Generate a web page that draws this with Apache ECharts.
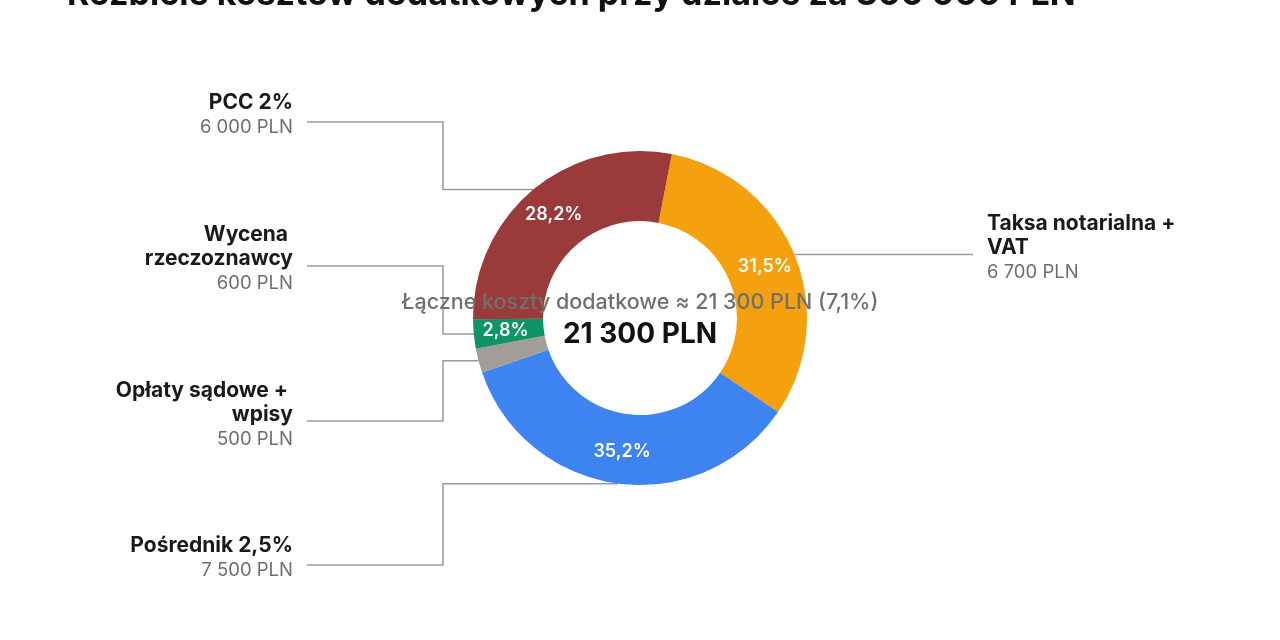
<!DOCTYPE html>
<html><head><meta charset="utf-8">
<script src="https://cdn.jsdelivr.net/npm/echarts@6/dist/echarts.min.js"></script>
<style>html,body{margin:0;padding:0;background:#fff}#main{width:1280px;height:640px}</style>
</head><body><div id="main"></div>
<script>
// ---- data ----
const titleText = 'Rozbicie kosztów dodatkowych przy działce za 300 000 PLN';
const categories = ['Taksa notarialna +\nVAT', 'Pośrednik 2,5%', 'Opłaty sądowe + \nwpisy', 'Wycena \nrzeczoznawcy', 'PCC 2%'];
const values = [6700, 7500, 500, 600, 6000];
const plotPrice = 300000;
const colors = ['#F4A00F', '#3D84F0', '#A19D98', '#0E9466', '#9B3A3A'];

// ---- helpers ----
const FONT = 'Inter, "Noto Sans", sans-serif';
const fmt = v => String(v).replace(/\B(?=(\d{3})+(?!\d))/g, ' ');
const total = values.reduce((a, b) => a + b, 0);
const share = (total / plotPrice * 100).toFixed(1).replace('.', ',');
const pct = v => (v / total * 100).toFixed(1).replace('.', ',') + '%';
const pieData = categories.map((c, i) => ({ name: c, value: values[i], itemStyle: { color: colors[i] } }));

// label placement (layout only)
const labelPos = [
  { align: 'left', x: 987, y: 248, lineEnd: 973 },
  { align: 'right', x: 293, y: 558, lineY: 565, elbow: 443, lineEnd: 307 },
  { align: 'right', x: 293, y: 415, lineY: 421, elbow: 443, lineEnd: 307 },
  { align: 'right', x: 293, y: 259, lineY: 266, elbow: 443, lineEnd: 307 },
  { align: 'right', x: 293, y: 115, lineY: 122, elbow: 443, lineEnd: 307 }
];

const chart = echarts.init(document.getElementById('main'));
const center = ['50%', '49.7%'];
const radius = ['30.3%', '52.2%'];
chart.setOption({
  backgroundColor: '#fff',
  textStyle: { fontFamily: FONT },
  title: [
    { text: titleText, left: 62, top: -27, textStyle: { fontFamily: FONT, fontSize: 34, fontWeight: 'bold', color: '#111' } },
    { text: 'Łączne koszty dodatkowe ≈ ' + fmt(total) + ' PLN (' + share + '%)', left: 'center', top: 287,
      textStyle: { fontFamily: FONT, fontSize: 21.5, fontWeight: 500, color: '#707070' } },
    { text: fmt(total) + ' PLN', left: 'center', top: 316,
      textStyle: { fontFamily: FONT, fontSize: 28, fontWeight: 'bold', color: '#111' } }
  ],
  series: [
    {
      type: 'pie', center: center, radius: radius, startAngle: 79, clockwise: true,
      silent: true, avoidLabelOverlap: false,
      data: pieData,
      label: {
        show: true, position: 'outside',
        formatter: p => '{n|' + p.name + '}\n{v|' + fmt(p.value) + ' PLN}',
        rich: {
          n: { fontFamily: FONT, fontSize: 21, fontWeight: 'bold', color: '#1a1a1a', lineHeight: 24 },
          v: { fontFamily: FONT, fontSize: 18.5, color: '#6e6e6e', lineHeight: 24 }
        }
      },
      labelLine: { show: true, smooth: false, lineStyle: { color: '#9a9a9a', width: 1.5 } },
      labelLayout: function (p) {
        const L = labelPos[p.dataIndex];
        const res = { x: L.x, y: L.y, align: L.align, verticalAlign: 'middle' };
        const pts = p.labelLinePoints;
        if (pts && pts.length) {
          const a = pts[0];
          if (L.align === 'left') res.labelLinePoints = [a, [L.lineEnd, a[1]]];
          else res.labelLinePoints = [a, [L.elbow, a[1]], [L.elbow, L.lineY], [L.lineEnd, L.lineY]];
        }
        return res;
      }
    },
    {
      type: 'pie', center: center, radius: radius, startAngle: 79, clockwise: true,
      silent: true, minShowLabelAngle: 9,
      data: pieData.map(d => ({ name: d.name, value: d.value })),
      itemStyle: { color: 'rgba(0,0,0,0)' },
      label: {
        show: true, position: 'inside',
        formatter: p => pct(p.value),
        fontFamily: FONT, fontSize: 18, fontWeight: 600, color: '#fff'
      },
      labelLine: { show: false }
    }
  ]
});
</script>
</body></html>
